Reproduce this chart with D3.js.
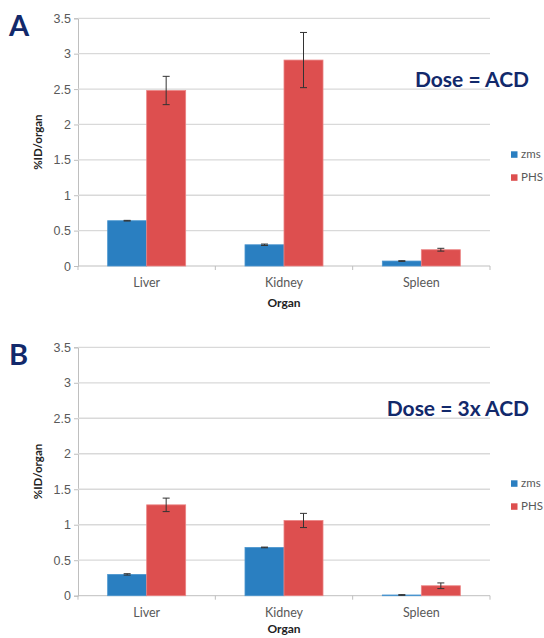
<!DOCTYPE html>
<html>
<head>
<meta charset="utf-8">
<script src="https://cdn.jsdelivr.net/npm/d3@7"></script>
<style>
  body { margin: 0; background: #fff; }
  svg { display: block; font-family: Lato, "Open Sans", sans-serif; }
</style>
</head>
<body>
<svg id="chart" width="544" height="638"></svg>
<script>
// organs on the x axis
const organs = ['Liver', 'Kidney', 'Spleen'];
const series = ['zms', 'PHS'];
const yTicks = [0, 0.5, 1, 1.5, 2, 2.5, 3, 3.5];

// panel A: dose = ACD
const doseAzms = [0.64, 0.30, 0.07];
const doseAzmsErr = [0.005, 0.01, 0.005];
const doseAphs = [2.48, 2.91, 0.23];
const doseAphsErr = [0.20, 0.39, 0.02];

// panel B: dose = 3x ACD
const doseBzms = [0.30, 0.68, 0.01];
const doseBzmsErr = [0.01, 0.005, 0.005];
const doseBphs = [1.28, 1.06, 0.14];
const doseBphsErr = [0.095, 0.10, 0.04];

const colors = { zms: '#2a7fc1', PHS: '#dd4f4f' };
const borders = { zms: '#4a95cf', PHS: '#eb8484' };
const navy = '#12296b';

const svg = d3.select('#chart');

function drawPanel(opts) {
  const { letter, title, top, bottom, zms, zmsErr, phs, phsErr, organDy } = opts;
  const left = 78, right = 490;
  const g = svg.append('g');

  const x = d3.scaleBand().domain(organs).range([left, right]);
  const bw = x.bandwidth();
  const xs = d3.scaleBand().domain(series).range([bw * 0.216, bw * 0.784]);
  const y = d3.scaleLinear().domain([0, 3.5]).range([bottom, top]);

  // gridlines + y axis
  const yAxis = d3.axisLeft(y).tickValues(yTicks)
    .tickSize(4).tickFormat(d3.format('~g'));
  const ya = g.append('g').attr('transform', `translate(${left},0)`).call(yAxis);
  ya.select('.domain').attr('stroke', '#bfbfbf');
  ya.selectAll('.tick line').attr('stroke', '#bfbfbf');
  ya.selectAll('.tick text').attr('fill', '#595959').attr('font-size', 12.5)
    .attr('x', -7);

  g.append('g').selectAll('line').data(yTicks.filter(d => d > 0)).join('line')
    .attr('x1', left).attr('x2', right)
    .attr('y1', d => y(d)).attr('y2', d => y(d))
    .attr('stroke', '#d9d9d9').attr('stroke-width', 1.3);

  // x axis with ticks at category boundaries
  g.append('line').attr('x1', left).attr('x2', right)
    .attr('y1', bottom).attr('y2', bottom).attr('stroke', '#bfbfbf');
  g.append('g').selectAll('line').data(organs.map(o => x(o)).concat([right])).join('line')
    .attr('x1', d => d).attr('x2', d => d)
    .attr('y1', bottom).attr('y2', bottom + 4).attr('stroke', '#bfbfbf');

  g.append('g').selectAll('text').data(organs).join('text')
    .attr('x', d => x(d) + bw / 2).attr('y', bottom + 21)
    .attr('text-anchor', 'middle').attr('font-size', 12.5).attr('fill', '#595959')
    .text(d => d);

  // bars
  const rows = [];
  organs.forEach((o, i) => {
    rows.push({ organ: o, s: 'zms', v: zms[i], e: zmsErr[i] });
    rows.push({ organ: o, s: 'PHS', v: phs[i], e: phsErr[i] });
  });
  g.append('g').selectAll('rect').data(rows).join('rect')
    .attr('x', d => x(d.organ) + xs(d.s))
    .attr('y', d => y(d.v))
    .attr('width', xs.bandwidth())
    .attr('height', d => y(0) - y(d.v))
    .attr('fill', d => colors[d.s])
    .attr('stroke', d => borders[d.s]).attr('stroke-width', 0.8);

  // error bars
  const eb = g.append('g').attr('stroke', '#333').attr('stroke-width', 1);
  rows.forEach(d => {
    const cx = x(d.organ) + xs(d.s) + xs.bandwidth() / 2;
    const y1 = y(d.v + d.e), y2 = y(d.v - d.e);
    eb.append('line').attr('x1', cx).attr('x2', cx).attr('y1', y1).attr('y2', y2);
    eb.append('line').attr('x1', cx - 3.5).attr('x2', cx + 3.5).attr('y1', y1).attr('y2', y1);
    eb.append('line').attr('x1', cx - 3.5).attr('x2', cx + 3.5).attr('y1', y2).attr('y2', y2);
  });

  // axis titles
  g.append('text')
    .attr('transform', `translate(42,${(top + bottom) / 2}) rotate(-90)`)
    .attr('text-anchor', 'middle').attr('font-size', 11.5).attr('font-weight', 'bold')
    .attr('fill', '#222').text('%ID/organ');
  g.append('text').attr('x', (left + right) / 2).attr('y', bottom + organDy)
    .attr('text-anchor', 'middle').attr('font-size', 12).attr('font-weight', 'bold')
    .attr('fill', '#222').text('Organ');

  // panel letter and dose caption
  g.append('text').attr('x', 9).attr('y', top + 18).attr('font-size', 29)
    .attr('font-weight', 'bold').attr('fill', navy).text(letter);
  g.append('text').attr('x', 529).attr('y', top + 69).attr('text-anchor', 'end')
    .attr('font-size', 21).attr('font-weight', 'bold').attr('fill', navy).text(title);

  // legend
  const lg = g.append('g').selectAll('g').data(series).join('g')
    .attr('transform', (d, i) => `translate(511,${top + 133 + i * 23})`);
  lg.append('rect').attr('width', 6.5).attr('height', 6.5).attr('fill', d => colors[d]);
  lg.append('text').attr('x', 10).attr('y', 6.5).attr('font-size', 11.5)
    .attr('fill', '#595959').text(d => d);
}

drawPanel({ letter: 'A', title: 'Dose = ACD', top: 18.3, bottom: 266, organDy: 41,
  zms: doseAzms, zmsErr: doseAzmsErr, phs: doseAphs, phsErr: doseAphsErr });
drawPanel({ letter: 'B', title: 'Dose = 3x ACD', top: 347.3, bottom: 595.7, organDy: 37.5,
  zms: doseBzms, zmsErr: doseBzmsErr, phs: doseBphs, phsErr: doseBphsErr });
</script>
</body>
</html>
